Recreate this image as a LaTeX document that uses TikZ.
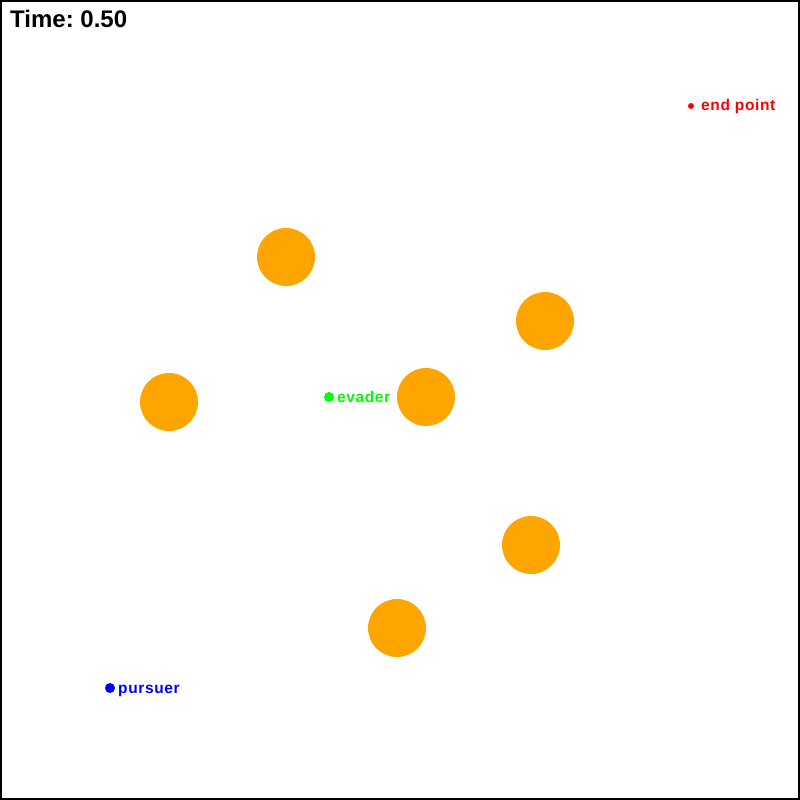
\documentclass[tikz,border=0pt]{standalone}
\usepackage{fontspec}
\setmainfont{Liberation Sans}
\newfontfamily\labelfont[LetterSpace=4]{Liberation Sans}
\begin{document}
\begin{tikzpicture}[x=1pt,y=-1pt,
  obstacle/.style={circle,fill=orangeobs,inner sep=0pt,minimum size=58pt},
  agentlabel/.style={anchor=base west,inner sep=0pt,font=\labelfont\fontsize{15.5}{18}\selectfont\bfseries}]
\definecolor{orangeobs}{HTML}{FFA500}
\definecolor{evgreen}{HTML}{00FF00}
\useasboundingbox (0,0) rectangle (800,800);
\draw[line width=2pt] (1,1) rectangle (799,799);
\node[anchor=base west,inner sep=0pt,font=\fontsize{24}{26}\selectfont\bfseries] (time) at (10,28) {Time:\ 0.50};
\node[obstacle] (o1) at (286,257) {};
\node[obstacle] (o2) at (545,321) {};
\node[obstacle] (o3) at (169,402) {};
\node[obstacle] (o4) at (426,397) {};
\node[obstacle] (o5) at (531,545) {};
\node[obstacle] (o6) at (397,628) {};
\fill[red] (691,106) circle (3pt) coordinate (endp);
\node[agentlabel,text=red] (endl) at (701,110) {end point};
\fill[evgreen] (329,397) circle (5pt) coordinate (ev);
\node[agentlabel,text=evgreen] (evl) at (337,402) {evader};
\fill[blue] (110,688) circle (5pt) coordinate (pu);
\node[agentlabel,text=blue] (pul) at (118,693) {pursuer};
\end{tikzpicture}
\end{document}
